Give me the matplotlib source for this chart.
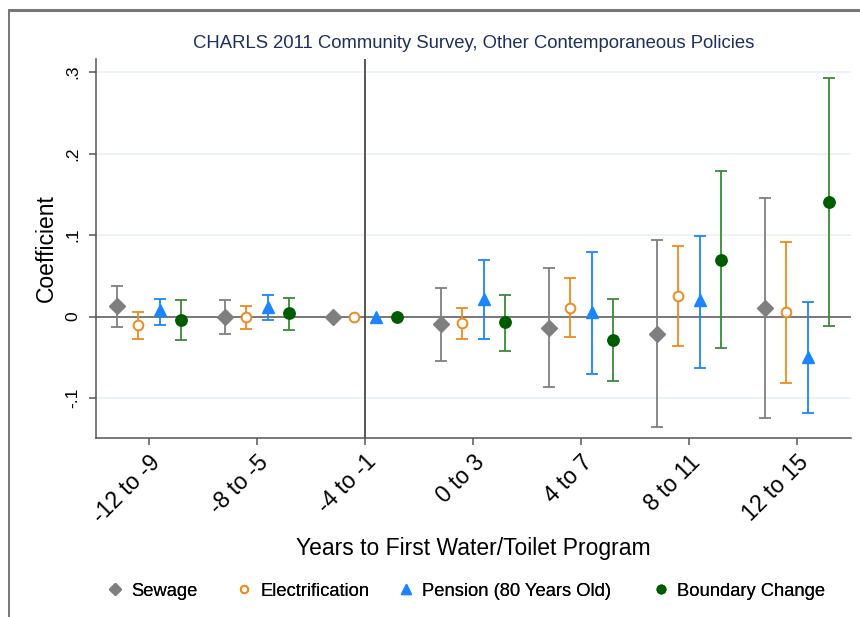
import matplotlib
matplotlib.use("Agg")
import matplotlib.pyplot as plt
from matplotlib.lines import Line2D
import numpy as np

plt.rcParams['font.family'] = ['Liberation Sans', 'DejaVu Sans']

groups = ["-12 to -9", "-8 to -5", "-4 to -1", "0 to 3", "4 to 7", "8 to 11", "12 to 15"]

# point estimates, lower and upper bounds of the 95% CI
sewage = [0.013, -0.001, 0.0, -0.009, -0.014, -0.021, 0.011]
sewage_lo = [-0.013, -0.022, 0.0, -0.054, -0.087, -0.135, -0.124]
sewage_hi = [0.038, 0.020, 0.0, 0.035, 0.060, 0.094, 0.145]

electr = [-0.010, 0.0, 0.0, -0.008, 0.011, 0.025, 0.005]
electr_lo = [-0.027, -0.015, 0.0, -0.027, -0.025, -0.036, -0.082]
electr_hi = [0.005, 0.013, 0.0, 0.010, 0.047, 0.086, 0.092]

pension = [0.008, 0.012, 0.0, 0.021, 0.005, 0.020, -0.050]
pension_lo = [-0.010, -0.004, 0.0, -0.028, -0.071, -0.063, -0.118]
pension_hi = [0.022, 0.027, 0.0, 0.069, 0.079, 0.099, 0.018]

boundary = [-0.004, 0.004, 0.0, -0.007, -0.029, 0.070, 0.140]
boundary_lo = [-0.029, -0.016, 0.0, -0.042, -0.079, -0.038, -0.012]
boundary_hi = [0.020, 0.023, 0.0, 0.027, 0.021, 0.178, 0.293]

fig = plt.figure(figsize=(8.6, 6.17), dpi=100)
ax = fig.add_axes([96/860, 1-438/617, (851-96)/860, (438-59)/617])

# outer frame pieces (top and left edge of a border)
fig.add_artist(Line2D([8.5/860, 8.5/860], [0, 1-10/617], color="#777777", lw=1.4))
fig.add_artist(Line2D([8.5/860, 1], [1-10/617, 1-10/617], color="#777777", lw=2.2))

x = np.arange(len(groups))

series = [
    ("Sewage", sewage, sewage_lo, sewage_hi, -0.3, dict(marker="D", ms=8, mfc="#7f7f7f", mec="#7f7f7f"), "#7f7f7f"),
    ("Electrification", electr, electr_lo, electr_hi, -0.1, dict(marker="o", ms=7, mfc="white", mec="#ef8a1c", mew=1.4), "#ef8a1c"),
    ("Pension (80 Years Old)", pension, pension_lo, pension_hi, 0.1, dict(marker="^", ms=9, mfc="#1a85ff", mec="#1a85ff"), "#1a85ff"),
    ("Boundary Change", boundary, boundary_lo, boundary_hi, 0.3, dict(marker="o", ms=8.2, mfc="#005c00", mec="#005c00"), "#3a8a3a"),
]

ax.axhline(0, color="#6e6e6e", lw=1.3, zorder=1)
ax.axvline(2, color="#555555", lw=1.4, zorder=1)

handles = []
for name, est, lo, hi, off, mk, ecol in series:
    est = np.array(est)
    err = np.array([est - np.array(lo), np.array(hi) - est])
    has = err.sum(axis=0) > 0
    ax.errorbar(x[has] + off, est[has], yerr=err[:, has], fmt="none",
                ecolor=ecol, elinewidth=1.3, capsize=4.3, capthick=1.3, zorder=2)
    ax.plot(x + off, est, linestyle="none", zorder=3, **mk)
    handles.append(Line2D([], [], linestyle="none", label=name,
                          **{**mk, "ms": mk["ms"] * 0.75}))

ax.set_xlim(-0.49, 6.5)
ax.set_ylim(-0.149, 0.316)
ax.set_yticks([-0.1, 0, 0.1, 0.2, 0.3])
ax.set_yticklabels(["-.1", "0", ".1", ".2", ".3"], rotation=90, va="center", fontsize=12.5)
ax.set_xticks(x)
ax.set_xticklabels(groups, rotation=45, ha="right", rotation_mode="anchor", fontsize=16.5)

ax.yaxis.grid(True, color="#e9f1f3", lw=1.2)
ax.set_axisbelow(True)
for s in ["top", "right"]:
    ax.spines[s].set_visible(False)
for s in ["left", "bottom"]:
    ax.spines[s].set_color("#555555")
    ax.spines[s].set_linewidth(1.1)
ax.tick_params(length=5, color="#555555", width=1.1)
ax.tick_params(axis="y", pad=6)
ax.tick_params(axis="x", pad=4)

ax.set_ylabel("Coefficient", fontsize=16.5, labelpad=6)
ax.set_xlabel("Years to First Water/Toilet Program", fontsize=16.5, labelpad=7)
ax.set_title("CHARLS 2011 Community Survey, Other Contemporaneous Policies",
             fontsize=13.3, color="#1f2f5c", pad=8)

# legend entries sit at fixed spots along the bottom, like the Stata layout
leg_x = [115, 244, 406, 661]
for h, mx in zip(handles, leg_x):
    lg = fig.legend(handles=[h], loc="center left", bbox_to_anchor=((mx - 9.2)/860, 1-591/617),
                    frameon=False, fontsize=13.2, handletextpad=0.4, handlelength=1.0,
                    borderpad=0, borderaxespad=0)
    fig.add_artist(lg)

fig.savefig("out.png", dpi=100)
